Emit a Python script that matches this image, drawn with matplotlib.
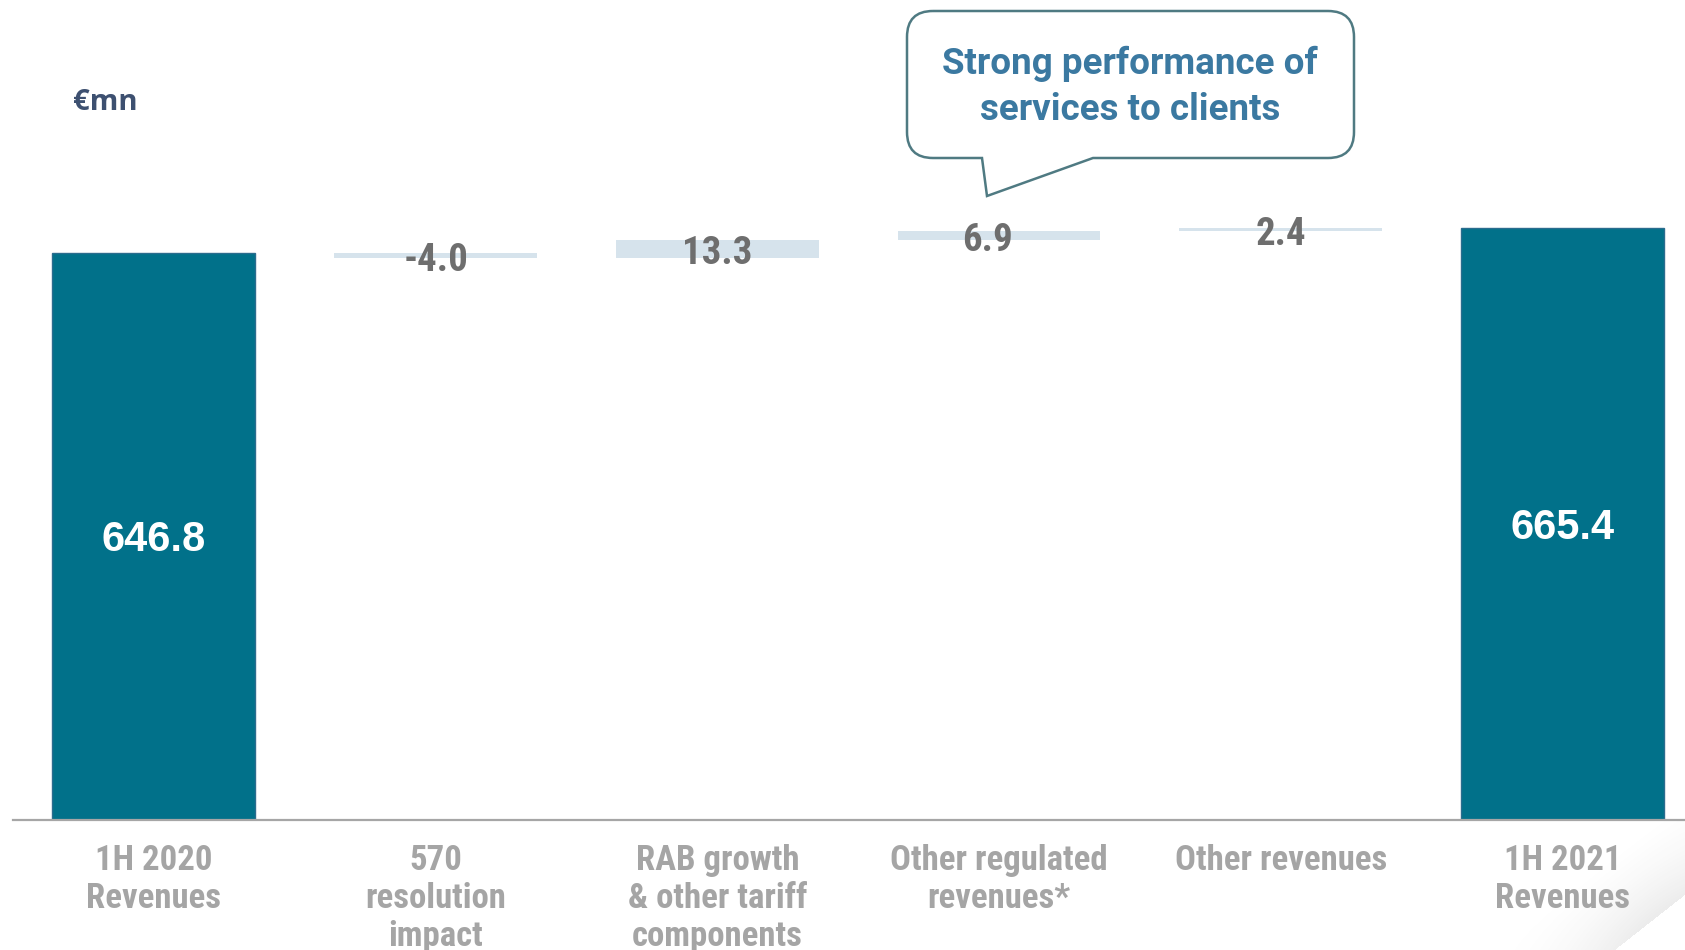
import numpy as np
import matplotlib
matplotlib.use("Agg")
import matplotlib.pyplot as plt
from matplotlib import font_manager
from matplotlib.path import Path
from matplotlib.patches import PathPatch

# ---- data -------------------------------------------------------------
categories = [
    "1H 2020\nRevenues",
    "570\nresolution\nimpact",
    "RAB growth\n& other tariff\ncomponents",
    "Other regulated\nrevenues*",
    "Other revenues",
    "1H 2021\nRevenues",
]
start_total = 646.8
end_total = 665.4
changes = [-4.0, 13.3, 6.9, 2.4]
change_labels = ["-4.0", "13.3", "6.9", "2.4"]
total_labels = ["646.8", "665.4"]
unit_label = "€mn"
callout_lines = ["Strong performance of", "services to clients"]

# ---- styling ----------------------------------------------------------
TEAL = "#01718A"
TEAL_EDGE = "#2B6C8E"
STEP = "#D6E3EC"
VALUE_GREY = "#6E6E6E"
CAT_GREY = "#A5A5A5"
AXIS_GREY = "#A6A6A6"

names = {f.name for f in font_manager.fontManager.ttflist}


def pick(*cands):
    for c in cands:
        if c in names:
            return c
    return "DejaVu Sans"


NARROW = pick("Liberation Sans Narrow", "Arial Narrow", "Roboto Condensed",
              "Archivo Narrow", "PT Sans Narrow", "Liberation Sans")
SANS = pick("Liberation Sans", "Arimo", "DejaVu Sans")
ROUND = pick("Roboto", "Open Sans")
UNIT = pick("Open Sans", "Lato")

W, H = 1685, 950
fig = plt.figure(figsize=(W / 100, H / 100), dpi=100)
fig.patch.set_facecolor("white")

# full-figure pixel layer for decorations
ov = fig.add_axes([0, 0, 1, 1], zorder=0)
ov.set_xlim(0, W)
ov.set_ylim(H, 0)
ov.axis("off")

ax = fig.add_axes([13 / W, 1 - 820 / H, 1 - 13 / W, 820 / H], zorder=1)
ax.patch.set_visible(False)

x = np.arange(len(categories))
width = 0.72
totals = [(x[0], start_total, total_labels[0]), (x[-1], end_total, total_labels[1])]

# totals
for xi, val, lab in totals:
    ax.bar(xi, val, width=width, color=TEAL, edgecolor=TEAL_EDGE, linewidth=1.0, zorder=2)

# floating steps
level = start_total
mids = []
for xi, d in zip(x[1:-1], changes):
    bottom = min(level, level + d)
    ax.bar(xi, abs(d), bottom=bottom, width=width, color=STEP, linewidth=0, zorder=2)
    mids.append(bottom + abs(d) / 2)
    level += d

ymin, ymax = 216, 838.5
ax.set_ylim(ymin, ymax)
ax.set_xlim(-0.5, 5.435)

# labels on totals
for xi, val, lab in totals:
    ax.annotate(lab, (xi, (ymin + val) / 2), xytext=(0, -3), textcoords="offset points",
                ha="center", va="center", color="white", fontsize=30,
                fontweight="bold", family=SANS, zorder=3)

# labels on steps
for xi, m, lab, dx in zip(x[1:-1], mids, change_labels, [0, 0, -0.04, 0]):
    ax.annotate(lab, (xi + dx, m), xytext=(0, -3.5), textcoords="offset points",
                ha="center", va="center", color=VALUE_GREY, fontsize=28,
                fontweight="bold", family=NARROW, zorder=3)

# axes cosmetics
for s in ["left", "right", "top"]:
    ax.spines[s].set_visible(False)
ax.spines["bottom"].set_color(AXIS_GREY)
ax.spines["bottom"].set_linewidth(1.6)
ax.set_yticks([])
ax.set_xticks(x)
ax.set_xticklabels(categories, fontsize=25, fontweight="bold", color=CAT_GREY,
                   family=NARROW, linespacing=1.2)
ax.tick_params(axis="x", length=0, pad=17)

# unit label
ov.text(73, 102, unit_label, ha="left", va="center", fontsize=21, fontweight="bold",
        color="#3D5070", family=UNIT)

# speech-bubble callout
L, R, T, B, r = 907, 1354, 11, 158, 26
tail_l, tail_tip, tail_r = 982, (987, 196), 1093
verts = [
    (L + r, T), (R - r, T), (R, T), (R, T + r),
    (R, B - r), (R, B), (R - r, B),
    (tail_r, B), tail_tip, (tail_l, B),
    (L + r, B), (L, B), (L, B - r),
    (L, T + r), (L, T), (L + r, T),
]
codes = [
    Path.MOVETO, Path.LINETO, Path.CURVE3, Path.CURVE3,
    Path.LINETO, Path.CURVE3, Path.CURVE3,
    Path.LINETO, Path.LINETO, Path.LINETO,
    Path.LINETO, Path.CURVE3, Path.CURVE3,
    Path.LINETO, Path.CURVE3, Path.CURVE3,
]
ov.add_patch(PathPatch(Path(verts, codes), facecolor="white", edgecolor="#4F7A82",
                       linewidth=1.8, joinstyle="miter"))
for yy, line in zip([64, 110], callout_lines):
    ov.text(1130, yy, line, ha="center", va="center", fontsize=26.5,
            fontweight="bold", color="#3B79A1", family=ROUND)

# page-curl shading in the lower-right corner
gx0, gy0 = 1500, 820
gx, gy = np.meshgrid(np.arange(gx0, W) + 0.5, np.arange(gy0, H) + 0.5)
px, py = 1685.0, 895.0
nx, ny = -55.0, -70.0
nl = np.hypot(nx, ny)
s = ((gx - px) * nx + (gy - py) * ny) / nl
fade = np.clip(1 - s / 75, 0, 1) * (s > 0)
corner = np.clip(1 - np.hypot(W - gx, H - gy) / 190, 0, 1)
alpha = 0.22 * fade * corner
img = np.zeros(gx.shape + (4,))
img[..., :3] = 0.55
img[..., 3] = alpha
ov.imshow(img, extent=(gx0, W, H, gy0), origin="upper", interpolation="bilinear", zorder=0)
ov.set_xlim(0, W)
ov.set_ylim(H, 0)

fig.savefig("out.png", dpi=100, facecolor="white")
